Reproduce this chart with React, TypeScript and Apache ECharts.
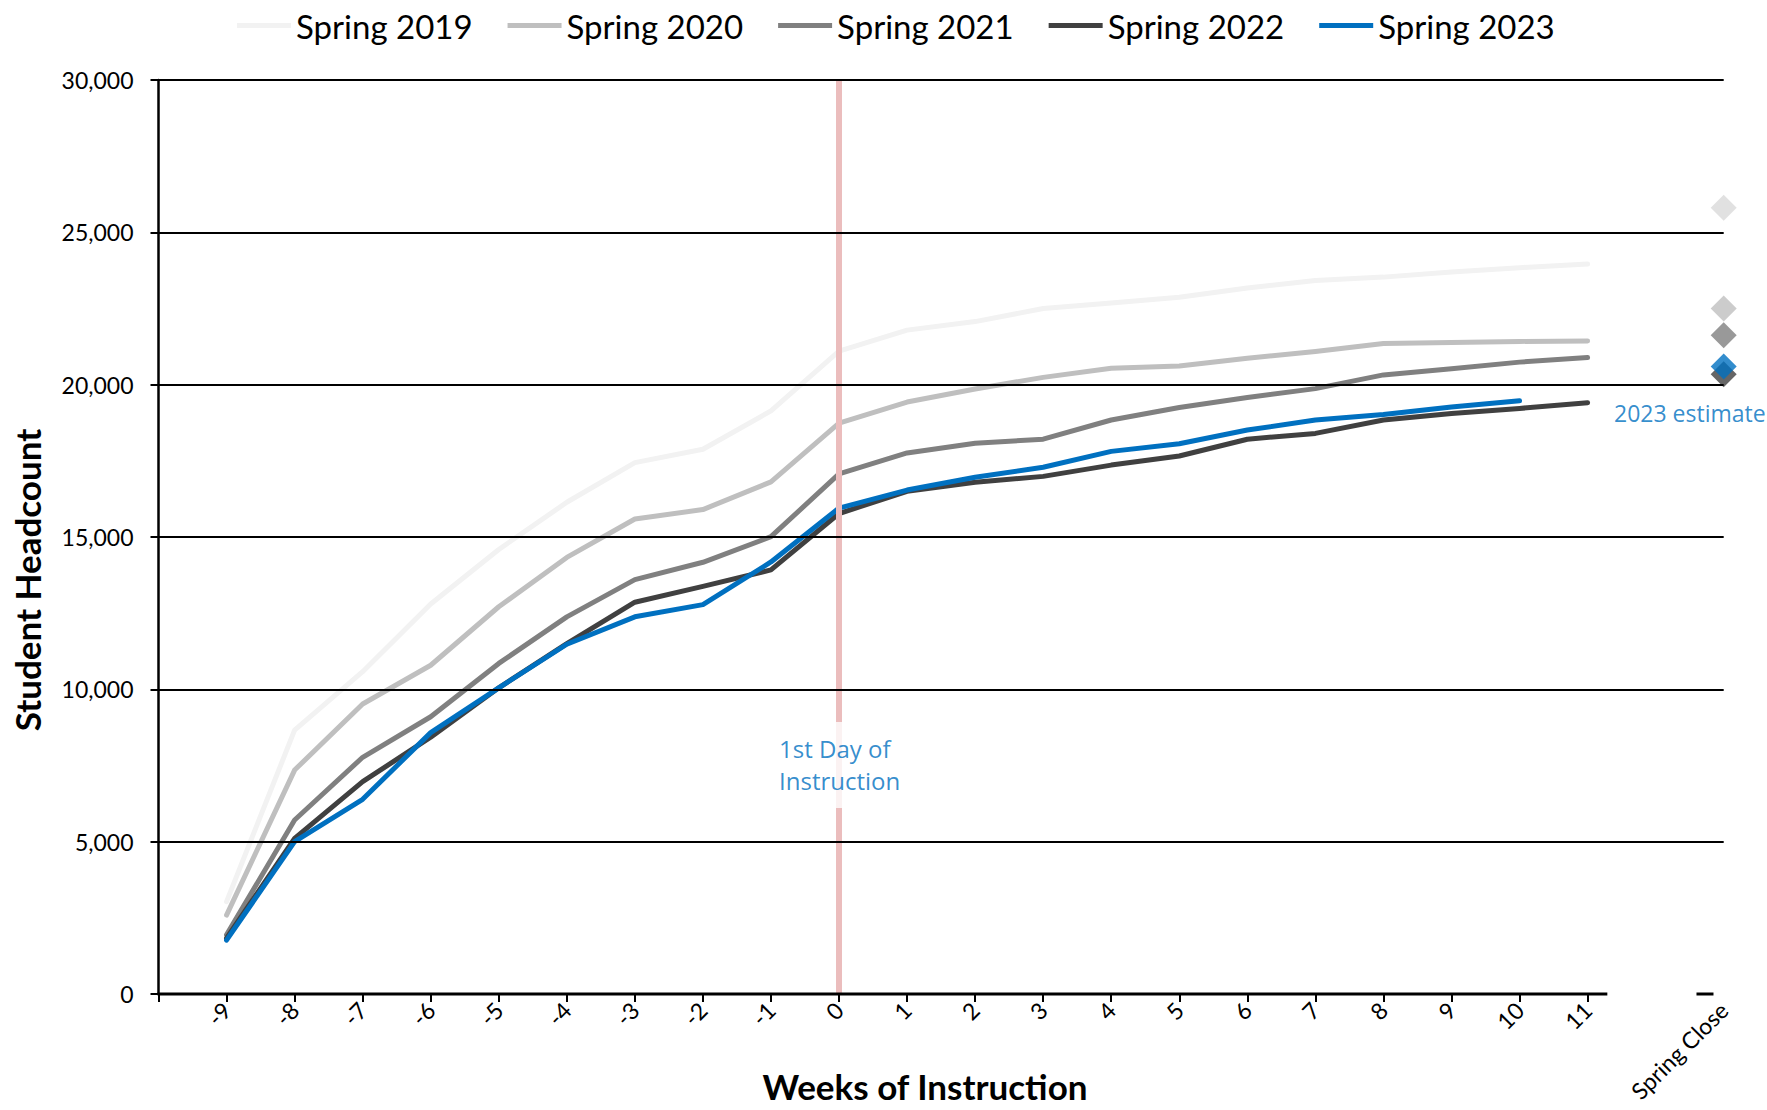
import React, { useEffect, useRef } from 'react';
import * as echarts from 'echarts';

const weekLabels = ['-9', '-8', '-7', '-6', '-5', '-4', '-3', '-2', '-1', '0', '1', '2', '3', '4', '5', '6', '7', '8', '9', '10', '11'];
const categories = ['', ...weekLabels, ' ', 'Spring Close'];

const seriesNames = ['Spring 2019', 'Spring 2020', 'Spring 2021', 'Spring 2022', 'Spring 2023'];
const lineColors = ['#F2F2F2', '#BFBFBF', '#808080', '#404040', '#0070C0'];
const diamondColors = ['#D9D9D9', '#BFBFBF', '#7F7F7F', '#404040', '#0070C0'];

const s2019 = [3030, 8660, 10580, 12800, 14590, 16140, 17440, 17880, 19140, 21100, 21790, 22070, 22500, 22680, 22870, 23170, 23420, 23530, 23700, 23840, 23960];
const s2020 = [2590, 7350, 9520, 10790, 12710, 14330, 15590, 15900, 16810, 18740, 19430, 19860, 20240, 20540, 20610, 20870, 21090, 21350, 21380, 21420, 21430];
const s2021 = [1940, 5710, 7770, 9100, 10850, 12380, 13600, 14170, 15010, 17070, 17760, 18080, 18210, 18840, 19250, 19580, 19870, 20320, 20520, 20740, 20890];
const s2022 = [1830, 5110, 6970, 8430, 10050, 11500, 12860, 13380, 13920, 15770, 16500, 16800, 16990, 17360, 17660, 18210, 18400, 18840, 19050, 19220, 19410];
const s2023 = [1770, 5000, 6390, 8580, 10050, 11480, 12380, 12780, 14180, 15950, 16540, 16960, 17290, 17810, 18060, 18510, 18840, 19020, 19270, 19470];
const springClose = [25810, 22500, 21620, 20340, 20600];

const yTicks = [5000, 10000, 15000, 20000, 25000, 30000];
const firstDayWeek = '0';
const firstDayLabelValue = 7520;
const estimateLabelValue = 19060;

const allSeries = [s2019, s2020, s2021, s2022, s2023];

const pad = (vals: number[]) => [null, ...vals, ...Array(categories.length - 1 - vals.length).fill(null)];

export default function App() {
  const ref = useRef<HTMLDivElement>(null);
  useEffect(() => {
    document.body.style.margin = '0';
    const chart = echarts.init(ref.current!, null, { renderer: 'svg' });
    const option: any = {
      animation: false,
      backgroundColor: '#ffffff',
      textStyle: { fontFamily: 'Lato' },
      grid: { left: 158.5, right: 43.3, top: 80, bottom: 116, containLabel: false },
      legend: {
        top: 4,
        left: 232,
        itemWidth: 54,
        itemHeight: 5,
        itemGap: 35,
        icon: 'rect',
        selectedMode: false,
        data: seriesNames,
        textStyle: { fontSize: 33, fontFamily: 'Lato', color: '#000', width: 180 },
      },
      xAxis: {
        type: 'category',
        data: categories,
        boundaryGap: false,
        axisLine: { show: false },
        axisTick: { show: true, length: 8, interval: (i: number) => i <= 21, lineStyle: { color: '#000', width: 2 } },
        axisLabel: { interval: 0, rotate: 45, fontSize: 23, color: '#000', margin: 12, fontFamily: 'Lato' },
        splitLine: { show: false },
      },
      yAxis: {
        type: 'value',
        min: 0,
        max: 30000,
        interval: 5000,
        axisLine: { show: true, lineStyle: { color: '#000', width: 2.5 } },
        axisTick: { show: true, length: 8, lineStyle: { color: '#000', width: 2 } },
        axisLabel: { fontSize: 23, color: '#000', margin: 25, fontFamily: 'Lato', formatter: (v: number) => v.toLocaleString('en-US') },
        splitLine: { show: false },
      },
      series: [
        {
          type: 'line', name: '_firstday', data: [], z: 1, silent: true,
          markLine: {
            symbol: ['none', 'none'], silent: true, label: { show: false },
            lineStyle: { color: '#EBBDBD', width: 6, type: 'solid' },
            data: [{ xAxis: firstDayWeek }],
          },
        },
        {
          type: 'line', name: '_grid', data: [], z: 1, silent: true,
          markLine: {
            symbol: ['none', 'none'], silent: true, label: { show: false },
            lineStyle: { color: '#000', width: 2, type: 'solid' },
            data: yTicks.map((v) => ({ yAxis: v })),
          },
        },
        ...allSeries.map((vals, i) => ({
          type: 'line',
          name: seriesNames[i],
          data: pad(vals),
          showSymbol: false,
          symbol: 'none',
          z: 3,
          itemStyle: { color: lineColors[i] },
          lineStyle: { color: lineColors[i], width: 5, cap: 'round', join: 'round' },
        })),
        ...springClose.map((v, i) => ({
          type: 'scatter',
          name: seriesNames[i] + ' close',
          data: [['Spring Close', v]],
          symbol: 'diamond',
          symbolSize: 26,
          z: 4,
          itemStyle: { color: diamondColors[i] },
        })),
        {
          type: 'scatter', name: '_label1', z: 6, silent: true,
          data: [[firstDayWeek, firstDayLabelValue]],
          symbolSize: 1,
          itemStyle: { color: 'rgba(0,0,0,0)' },
          label: {
            show: true, position: 'inside', formatter: '1st Day of\nInstruction',
            color: '#0070C0', fontSize: 24, fontFamily: 'Open Sans', lineHeight: 32,
            backgroundColor: '#ffffff', padding: [11, 4], align: 'left', offset: [-64, 0],
          },
        },
        {
          type: 'scatter', name: '_label2', z: 6, silent: true,
          data: [['Spring Close', estimateLabelValue]],
          symbolSize: 1,
          itemStyle: { color: 'rgba(0,0,0,0)' },
          label: {
            show: true, position: 'inside', formatter: '2023 estimate',
            color: '#0070C0', fontSize: 23, fontFamily: 'Open Sans', align: 'right', offset: [42, 0],
          },
        },
      ],
    };
    chart.setOption(option);
    const xPx = (i: number) => chart.convertToPixel({ xAxisIndex: 0 }, i) as unknown as number;
    const y0 = chart.convertToPixel({ yAxisIndex: 0 }, 0) as unknown as number;
    const step = xPx(22) - xPx(21);
    chart.setOption({
      graphic: {
        elements: [
          { type: 'line', z: 10, shape: { x1: xPx(0) - 1, y1: y0, x2: xPx(21) + 0.29 * step, y2: y0 }, style: { stroke: '#000', lineWidth: 3 } },
          { type: 'line', z: 10, shape: { x1: xPx(22) + 0.6 * step, y1: y0, x2: xPx(22) + 0.85 * step, y2: y0 }, style: { stroke: '#000', lineWidth: 3 } },
          { type: 'text', x: 925, y: 1086, style: { text: 'Weeks of Instruction', fontSize: 35, fontWeight: 'bold', fontFamily: 'Lato', fill: '#000', align: 'center', verticalAlign: 'middle' } },
          { type: 'text', x: 27, y: 580, rotation: Math.PI / 2, style: { text: 'Student Headcount', fontSize: 35, fontWeight: 'bold', fontFamily: 'Lato', fill: '#000', align: 'center', verticalAlign: 'middle' } },
        ],
      },
    });
    return () => chart.dispose();
  }, []);
  return <div ref={ref} style={{ width: 1767, height: 1110 }} />;
}
